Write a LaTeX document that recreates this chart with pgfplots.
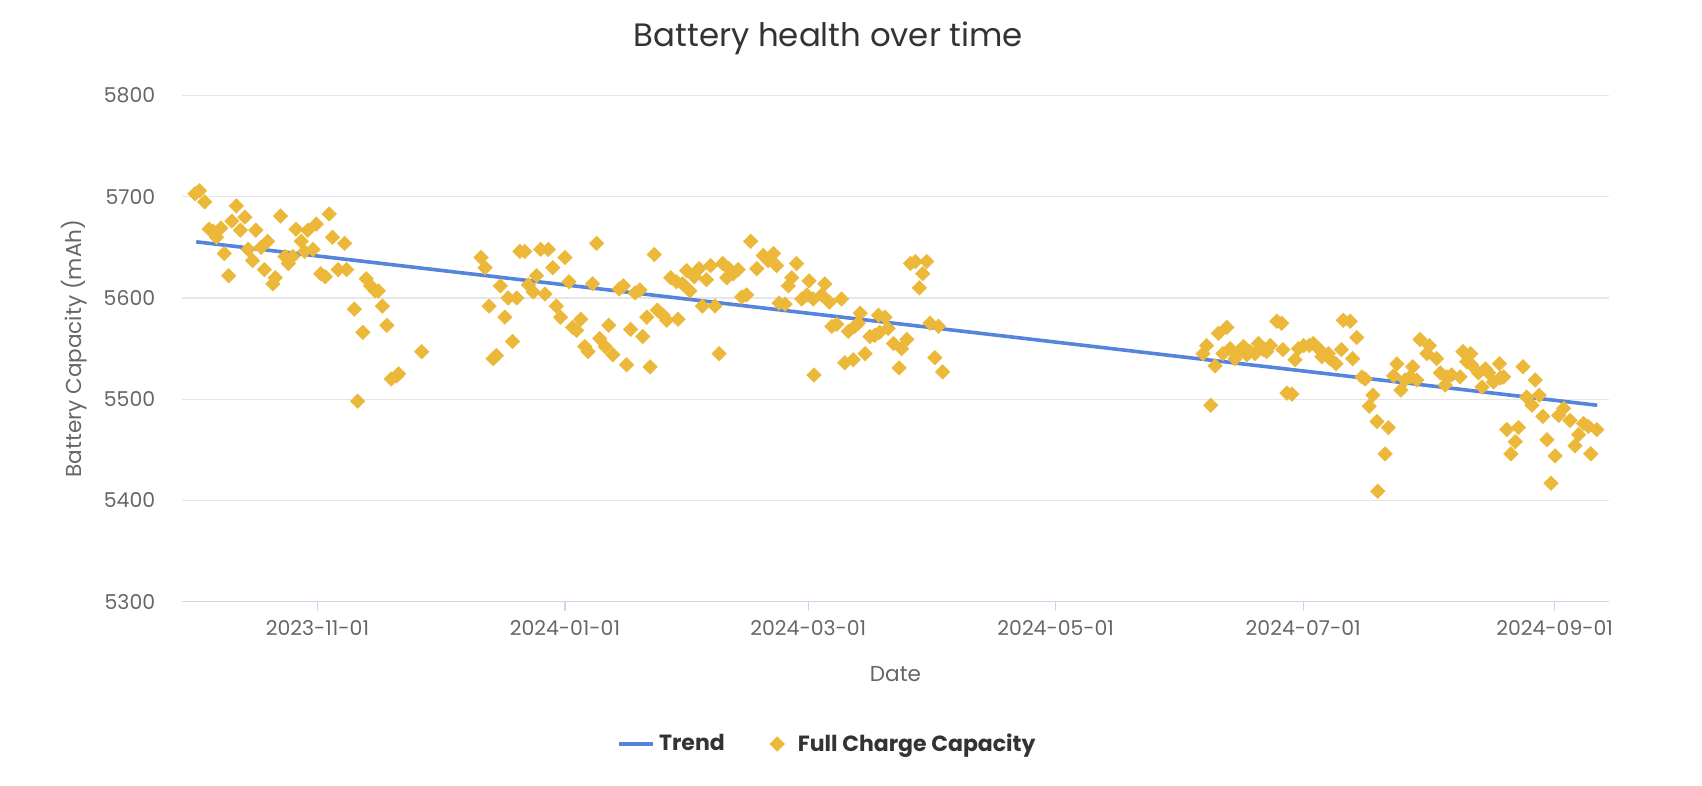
\documentclass[border=0pt]{standalone}
\usepackage{fontspec}
\setmainfont{Poppins}
\usepackage{pgfplots}
\pgfplotsset{compat=1.18}
\usepackage{pgfplotstable}

\definecolor{trendblue}{RGB}{84,132,219}
\definecolor{gold}{RGB}{236,184,58}
\definecolor{gridgray}{RGB}{230,230,230}
\definecolor{axisline}{RGB}{204,214,235}
\definecolor{labelgray}{RGB}{102,102,102}
\definecolor{titlegray}{RGB}{51,51,51}

% wider legend image so the diamond sits apart from its text
\pgfplotsset{diamondlegend/.style={
  legend image code/.code={\path[draw=none, fill=none] (0cm,0cm) -- (0.58cm,0cm);
    \draw[##1, only marks] plot coordinates {(0.29cm,0cm)};}}}

% day = days since 2023-11-01, cap = full charge capacity (mAh)
\pgfplotstableread{
day cap
-30.2 5703
-29.1 5706
-27.8 5695
-26.7 5668
-25.7 5666
-24.9 5660
-23.8 5669
-23.0 5644
-21.9 5622
-21.1 5676
-20.0 5691
-19.0 5667
-17.9 5680
-17.1 5648
-16.0 5637
-15.2 5667
-13.9 5650
-13.1 5628
-12.3 5656
-11.0 5614
-10.4 5620
-9.1 5681
-8.0 5641
-7.2 5634
-6.1 5641
-5.3 5668
-4.0 5656
-3.2 5646
-2.4 5667
-1.1 5648
-0.3 5673
0.8 5624
1.9 5621
2.9 5683
3.7 5660
5.1 5628
6.7 5654
7.2 5628
9.1 5589
9.9 5498
11.2 5566
12.0 5619
13.1 5612
14.2 5607
15.0 5607
16.0 5592
17.1 5573
18.2 5520
19.5 5523
20.0 5525
25.7 5547
40.3 5640
41.3 5630
42.3 5592
43.3 5540
44.1 5543
45.1 5612
46.2 5581
47.0 5600
48.1 5557
49.1 5600
49.9 5646
51.1 5646
52.0 5613
53.2 5606
54.0 5622
55.0 5648
56.1 5604
56.9 5648
58.0 5630
58.9 5592
59.9 5581
61.0 5640
62.0 5616
62.9 5571
63.9 5568
64.9 5579
65.9 5552
66.7 5547
67.8 5614
68.8 5654
69.6 5560
70.9 5552
71.8 5573
72.8 5544
74.4 5609
75.4 5612
76.2 5534
77.2 5569
78.3 5605
79.5 5608
80.2 5562
81.2 5581
82.0 5532
83.0 5643
83.8 5588
85.2 5583
86.1 5578
87.1 5620
88.5 5616
88.9 5579
90.0 5614
91.0 5627
91.8 5607
92.9 5621
94.1 5629
94.9 5592
95.9 5618
96.9 5632
98.0 5592
99.0 5545
99.9 5634
100.9 5620
101.4 5629
102.5 5624
103.7 5628
104.6 5601
105.8 5603
106.8 5656
108.3 5629
109.9 5642
111.1 5637
112.4 5644
113.2 5632
113.8 5595
115.3 5594
116.1 5612
116.9 5620
118.1 5634
119.4 5599
120.6 5603
121.2 5617
122.2 5599
122.4 5524
124.3 5603
125.1 5614
126.2 5596
126.8 5572
128.0 5574
129.2 5599
130.0 5536
130.9 5567
132.1 5539
132.5 5572
133.3 5575
133.8 5585
135.0 5545
136.2 5562
137.4 5563
138.3 5583
138.6 5566
139.9 5581
140.7 5570
142.0 5555
143.4 5531
144.0 5550
145.3 5559
146.2 5634
147.4 5636
148.4 5610
149.2 5624
150.2 5636
151.0 5575
152.2 5541
153.1 5572
154.1 5527
218.3 5545
219.2 5553
220.2 5494
221.3 5533
222.1 5565
223.2 5545
224.2 5571
225.0 5550
226.2 5540
227.0 5547
228.3 5552
229.1 5544
229.9 5547
231.1 5545
232.0 5555
233.2 5549
234.0 5547
234.9 5553
236.5 5577
237.7 5575
238.0 5549
239.0 5506
240.2 5505
241.0 5539
241.8 5550
243.1 5553
244.5 5553
245.5 5555
246.8 5550
247.6 5542
249.2 5545
249.6 5540
251.1 5535
252.4 5549
252.9 5578
254.6 5577
255.2 5540
256.2 5561
257.5 5522
258.3 5520
259.3 5493
260.2 5504
261.2 5478
261.4 5409
263.2 5446
264.0 5472
265.3 5523
266.1 5535
267.1 5509
268.1 5519
269.4 5522
270.0 5532
271.0 5519
271.8 5559
273.5 5545
274.1 5553
275.9 5540
276.8 5526
278.0 5514
278.4 5522
279.6 5524
281.7 5522
282.4 5547
283.3 5537
284.3 5545
284.5 5534
286.2 5526
287.1 5512
287.9 5530
288.7 5526
289.9 5517
291.4 5535
291.6 5521
292.4 5522
293.2 5470
294.2 5446
295.3 5458
296.1 5472
297.2 5532
298.1 5502
299.4 5494
300.2 5519
301.2 5504
302.1 5483
303.1 5460
304.1 5417
305.1 5444
306.0 5484
307.2 5491
308.8 5479
310.0 5454
310.9 5465
312.1 5476
313.3 5473
313.9 5446
315.4 5470
}\capacity

\begin{document}
\begin{tikzpicture}
\useasboundingbox (-91pt,-92.2pt) rectangle (760pt,300.8pt);
\begin{axis}[
  at={(0,0)}, anchor=south west,
  scale only axis, width=713.5pt, height=253pt,
  xmin=-33.4, xmax=318.4, ymin=5300, ymax=5800,
  xtick={0,61,121,182,243,305},
  xticklabels={2023-11-01,2024-01-01,2024-03-01,2024-05-01,2024-07-01,2024-09-01},
  ytick={5300,5400,5500,5600,5700,5800},
  yticklabels={5300,5400,5500,5600,5700,5800},
  axis x line*=bottom, axis y line*=left,
  x axis line style={axisline, line width=0.6pt, -},
  y axis line style={draw=none},
  xtick style={axisline, line width=0.6pt},
  ytick style={draw=none},
  tick align=outside, major tick length=4.5pt,
  ymajorgrids, grid style={gridgray, line width=0.6pt},
  xticklabel style={font=\fontsize{10.2}{12}\selectfont, text=labelgray, yshift=-1.2pt},
  yticklabel style={font=\fontsize{10.2}{12}\selectfont, text=labelgray, xshift=-5.4pt},
  xlabel={Date},
  xlabel style={at={(axis description cs:0.5,-0.1431)}, anchor=center,
    font=\fontsize{10.8}{13}\selectfont, text=labelgray},
  ylabel={Battery Capacity (mAh)},
  ylabel style={at={(axis description cs:-0.0757,0.5)}, anchor=center,
    font=\fontsize{10.8}{13}\selectfont, text=labelgray},
  every axis title shift=0pt,
  title={Battery health over time},
  title style={at={(axis description cs:0.453,1.113)}, anchor=center,
    font=\fontsize{16.2}{19}\selectfont, text=titlegray},
  legend style={at={(axis description cs:0.453,-0.2814)}, anchor=center,
    draw=none, fill=none, legend columns=2,
    font=\bfseries\fontsize{11}{14}\selectfont, text=titlegray,
    /tikz/every even column/.append style={column sep=16pt}},
  clip=false,
]
\addplot[trendblue, line width=1.8pt] coordinates {(-29.9,5655.5) (315.5,5494)};
\addlegendentry{Trend}
\addplot[only marks, mark=square*, mark size=2.5pt, color=gold,
  mark options={rotate=45}, diamondlegend]
  table[x=day, y=cap] {\capacity};
\addlegendentry{Full Charge Capacity}
\end{axis}
\end{tikzpicture}
\end{document}
